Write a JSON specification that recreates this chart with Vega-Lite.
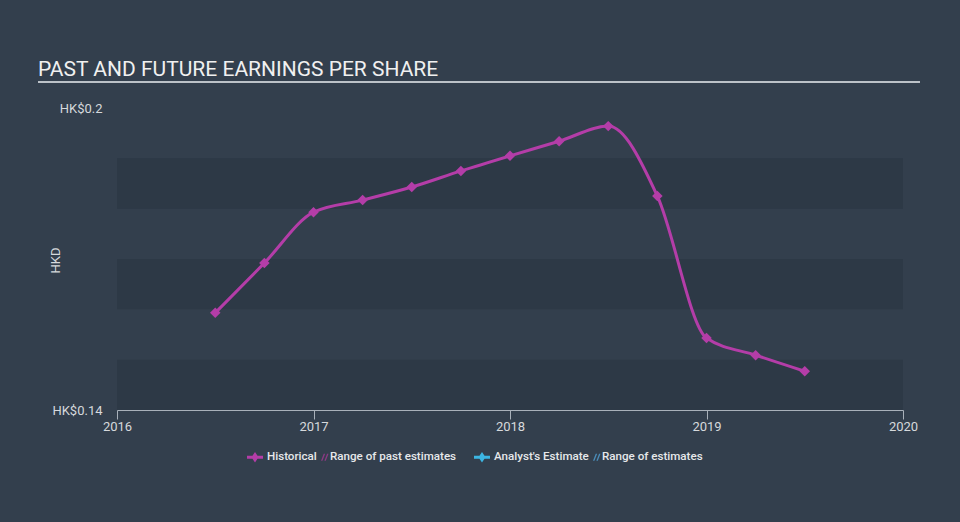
{
  "$schema": "https://vega.github.io/schema/vega-lite/v6.json",
  "width": 786,
  "height": 302,
  "autosize": {"type": "none"},
  "padding": {"left": 117, "top": 108, "right": 57, "bottom": 112},
  "background": "#333f4d",
  "title": {
    "text": "PAST AND FUTURE EARNINGS PER SHARE",
    "anchor": "start",
    "frame": "group",
    "dx": -79,
    "dy": 28,
    "offset": 12,
    "font": "Roboto",
    "fontSize": 21,
    "fontWeight": "normal",
    "color": "#f0f0f0",
    "baseline": "alphabetic"
  },
  "config": {
    "view": {"stroke": null},
    "axis": {"labelFont": "Roboto", "titleFont": "Roboto", "labelColor": "#d6d9dc", "titleColor": "#d6d9dc", "labelFontSize": 13, "titleFontSize": 13, "titleFontWeight": "normal", "grid": false},
    "legend": {"labelFont": "Roboto"}
  },
  "datasets": {
    "eps": [
      {"year": 2016.5, "eps": 0.1593, "series": "Historical"},
      {"year": 2016.75, "eps": 0.1692, "series": "Historical"},
      {"year": 2017.0, "eps": 0.1793, "series": "Historical"},
      {"year": 2017.25, "eps": 0.1817, "series": "Historical"},
      {"year": 2017.5, "eps": 0.1843, "series": "Historical"},
      {"year": 2017.75, "eps": 0.1875, "series": "Historical"},
      {"year": 2018.0, "eps": 0.1905, "series": "Historical"},
      {"year": 2018.25, "eps": 0.1934, "series": "Historical"},
      {"year": 2018.5, "eps": 0.1964, "series": "Historical"},
      {"year": 2018.75, "eps": 0.1825, "series": "Historical"},
      {"year": 2019.0, "eps": 0.1543, "series": "Historical"},
      {"year": 2019.25, "eps": 0.1509, "series": "Historical"},
      {"year": 2019.5, "eps": 0.1477, "series": "Historical"}
    ],
    "bands": [
      {"lo": 0.14, "hi": 0.15},
      {"lo": 0.16, "hi": 0.17},
      {"lo": 0.18, "hi": 0.19}
    ]
  },
  "layer": [
    {
      "data": {"name": "bands"},
      "mark": {"type": "rect", "fill": "#2d3946"},
      "encoding": {
        "x": {
          "datum": 2016, "type": "quantitative",
          "scale": {"domain": [2016, 2020], "nice": false},
          "axis": {"values": [2016, 2017, 2018, 2019, 2020], "format": "d", "title": null, "domainColor": "#a9b1ba", "tickColor": "#a9b1ba", "tickSize": 9, "labelPadding": 1, "labelBaseline": "top", "labelFlush": false}
        },
        "x2": {"datum": 2020},
        "y": {
          "field": "lo", "type": "quantitative",
          "scale": {"domain": [0.14, 0.2], "nice": false, "zero": false},
          "axis": {"values": [0.14, 0.2], "labelExpr": "'HK$' + datum.value", "title": "HKD", "domain": false, "ticks": false, "labelPadding": 15, "labelBaseline": "middle", "titleX": -62, "titleY": 152, "titleBaseline": "middle", "titleAngle": -90}
        },
        "y2": {"field": "hi"}
      }
    },
    {
      "data": {"name": "eps"},
      "mark": {"type": "line", "interpolate": "monotone", "stroke": "#b43da8", "strokeWidth": 3},
      "encoding": {
        "x": {"field": "year", "type": "quantitative", "scale": {"domain": [2016, 2020], "nice": false}},
        "y": {"field": "eps", "type": "quantitative", "scale": {"domain": [0.14, 0.2], "nice": false, "zero": false}}
      }
    },
    {
      "data": {"name": "eps"},
      "mark": {"type": "point", "shape": "diamond", "filled": true, "size": 110, "opacity": 1},
      "encoding": {
        "x": {"field": "year", "type": "quantitative", "scale": {"domain": [2016, 2020], "nice": false}},
        "y": {"field": "eps", "type": "quantitative", "scale": {"domain": [0.14, 0.2], "nice": false, "zero": false}},
        "color": {
          "field": "series", "type": "nominal",
          "scale": {"domain": ["Historical", "Range of past estimates", "Analyst's Estimate", "Range of estimates"], "range": ["#b43da8", "#8a3a83", "#3cb6e3", "#4a8cb8"]},
          "legend": {
            "title": null,
            "orient": "none",
            "direction": "horizontal",
            "legendX": 130,
            "legendY": 341,
            "padding": 0,
            "symbolSize": 256,
            "symbolStrokeWidth": 0,
            "symbolOpacity": 1,
            "labelFontSize": 11.6,
            "labelFontWeight": 500,
            "labelColor": "#e6e8ea",
            "labelOffset": 4,
            "columnPadding": 0,
            "labelExpr": "datum.value == 'Range of past estimates' ? datum.label + '      \u200b' : datum.label",
            "encode": {
              "labels": {
                "update": {
                  "dx": {"signal": "datum.index % 2 === 1 ? -7 : 0"}
                }
              },
              "symbols": {
                "update": {
                  "shape": {"signal": "datum.index % 2 === 0 ? 'M-1,-0.18L1,-0.18L1,0.18L-1,0.18Z M0,-0.66L0.44,0L0,0.66L-0.44,0Z' : 'M-0.5,0.44L-0.32,0.44L0.02,-0.44L-0.16,-0.44Z M-0.08,0.44L0.1,0.44L0.44,-0.44L0.26,-0.44Z'"}
                }
              }
            }
          }
        }
      }
    },
    {
      "data": {"values": [{}]},
      "mark": {"type": "rule", "stroke": "#bcc2c8", "strokeWidth": 2},
      "encoding": {
        "x": {"datum": 2015.598, "type": "quantitative", "scale": {"domain": [2016, 2020], "nice": false}},
        "x2": {"datum": 2020.0865},
        "y": {"datum": 0.20517, "type": "quantitative", "scale": {"domain": [0.14, 0.2], "nice": false, "zero": false}}
      }
    }
  ]
}
